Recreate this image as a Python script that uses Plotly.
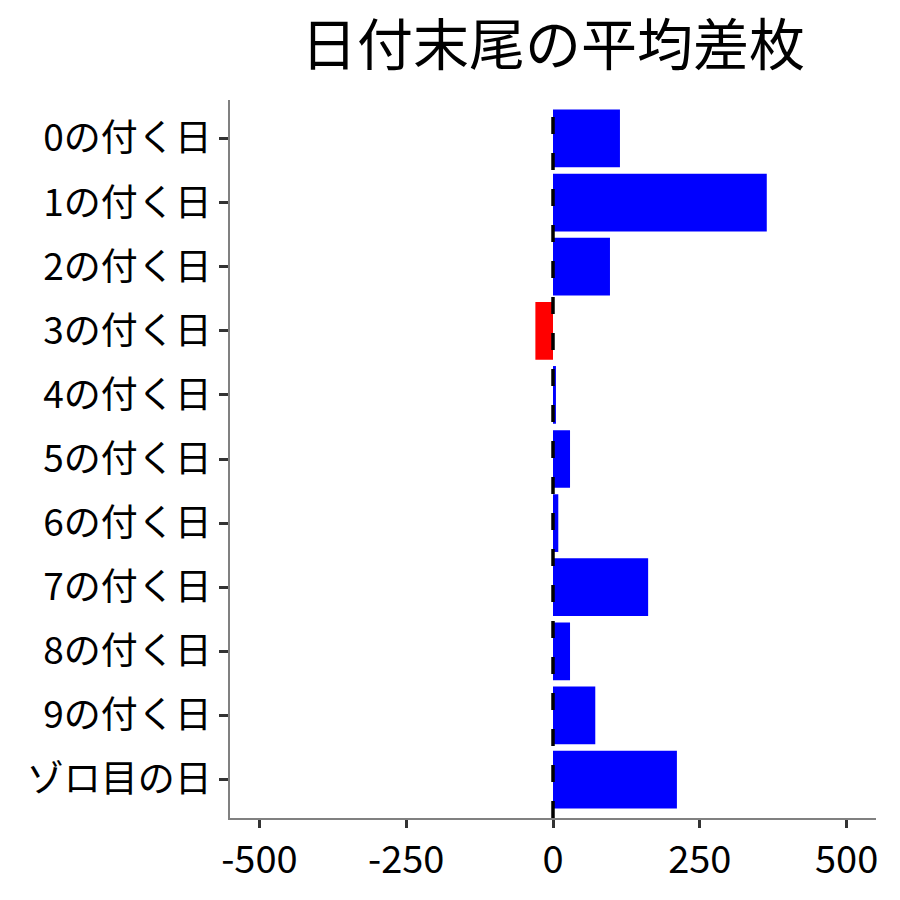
import plotly.graph_objects as go

categories = ["0の付く日", "1の付く日", "2の付く日", "3の付く日", "4の付く日",
              "5の付く日", "6の付く日", "7の付く日", "8の付く日", "9の付く日", "ゾロ目の日"]
values = [114, 364, 97, -30, 5, 29, 9, 162, 29, 72, 211]
x_ticks = [-500, -250, 0, 250, 500]
colors = ["#0000FF" if v >= 0 else "#FF0000" for v in values]

FONT = "Noto Sans CJK JP"

fig = go.Figure()
fig.add_trace(go.Bar(
    y=categories, x=values, orientation="h",
    marker=dict(color=colors, line=dict(width=0)),
    width=0.9, showlegend=False,
))
fig.add_shape(type="line", xref="x", yref="paper", x0=0, x1=0, y0=0, y1=1,
              line=dict(color="black", width=3.5, dash="17px,19px"), layer="above")

fig.update_layout(
    width=900, height=900,
    paper_bgcolor="white", plot_bgcolor="white",
    margin=dict(l=222, r=32, t=92, b=90),
    title=dict(text="日付末尾の平均差枚", x=(222 + 868) / 2 / 900, xanchor="center",
               y=1 - 37 / 900, yanchor="middle",
               font=dict(family=FONT, size=56, color="black")),
    font=dict(family=FONT),
    bargap=0.1,
)
fig.update_xaxes(range=[-550, 550], tickvals=x_ticks, ticktext=[str(t) for t in x_ticks],
                 showgrid=False, zeroline=False, showline=True, linecolor="#808080", linewidth=1.5,
                 ticks="outside", ticklen=8, tickwidth=3, tickcolor="#333333",
                 tickfont=dict(family=FONT, size=38, color="black"))
fig.update_yaxes(categoryorder="array", categoryarray=categories, range=[10.6, -0.6],
                 showgrid=False, zeroline=False, showline=True, linecolor="#808080", linewidth=1.5,
                 ticks="outside", ticklen=9, tickwidth=3, tickcolor="#333333",
                 tickfont=dict(family=FONT, size=37, color="black"))

fig.write_html("out.html")
